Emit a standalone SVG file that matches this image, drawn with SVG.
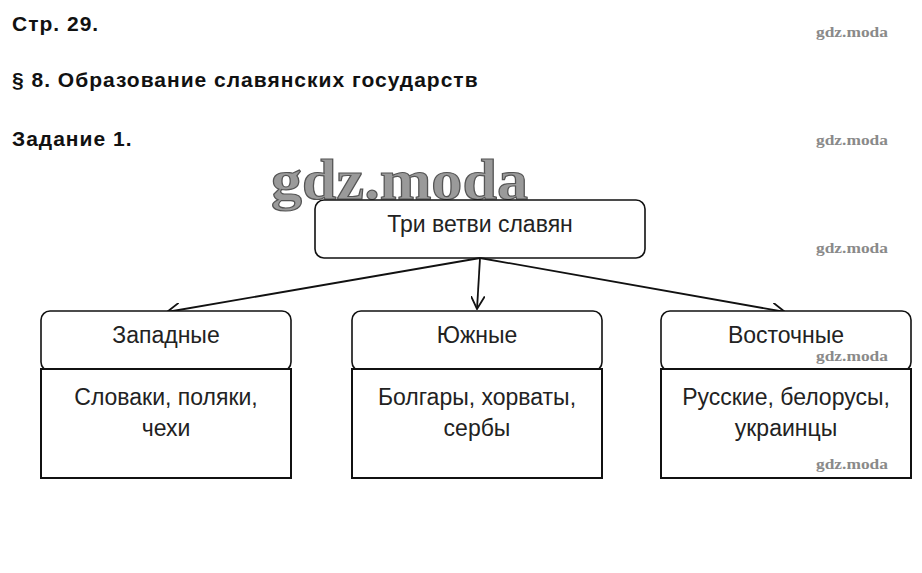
<svg xmlns="http://www.w3.org/2000/svg" width="922" height="573" viewBox="0 0 922 573">
<style>
.h{font-family:"Liberation Sans",Arial,sans-serif;font-weight:bold;font-size:21px;letter-spacing:1px;fill:#111}
.t{font-family:"Liberation Sans",Arial,sans-serif;font-size:23px;fill:#222;text-anchor:middle}
.box{fill:#fff;stroke:#111;stroke-width:1.6}
.body{fill:#fff;stroke:#111;stroke-width:2}
.wm{font-family:"Liberation Serif","Times New Roman",serif;font-weight:bold;font-size:15px;fill:#8a8a8a}
.big{font-family:"Liberation Serif","Times New Roman",serif;font-weight:bold;font-size:58px;fill:#9a9a9a;stroke:#555;stroke-width:1.2}
.c{stroke:#111;stroke-width:1.8;fill:none}
</style>
<defs>
<marker id="ah" viewBox="0 0 14 14" refX="13" refY="7" markerWidth="14" markerHeight="14" markerUnits="userSpaceOnUse" orient="auto">
<path d="M0,0 L13,7 L0,14" fill="none" stroke="#111" stroke-width="1.8"/>
</marker>
</defs>
<rect width="922" height="573" fill="#fff"/>
<text class="h" x="12" y="31">Стр. 29.</text>
<text class="h" x="12" y="87">§ 8. Образование славянских государств</text>
<text class="h" x="12" y="146">Задание 1.</text>
<text class="big" x="271" y="199" textLength="257" lengthAdjust="spacingAndGlyphs">gdz.moda</text>
<g id="root">
<rect class="box" x="315" y="200" width="330" height="58" rx="9"/>
<text class="t" x="480" y="232">Три ветви славян</text>
</g>
<g id="connectors">
<line class="c" x1="480" y1="258" x2="167" y2="312" marker-end="url(#ah)"/>
<line class="c" x1="480" y1="258" x2="477" y2="309" marker-end="url(#ah)"/>
<line class="c" x1="480" y1="258" x2="785" y2="312" marker-end="url(#ah)"/>
</g>
<g id="west">
<rect class="box" x="41" y="311" width="250" height="60" rx="9"/>
<rect class="body" x="41" y="369" width="250" height="109"/>
<text class="t" x="166" y="343">Западные</text>
<text class="t" x="166" y="405">Словаки, поляки,</text>
<text class="t" x="166" y="436">чехи</text>
</g>
<g id="south">
<rect class="box" x="352" y="311" width="250" height="60" rx="9"/>
<rect class="body" x="352" y="369" width="250" height="109"/>
<text class="t" x="477" y="343">Южные</text>
<text class="t" x="477" y="405">Болгары, хорваты,</text>
<text class="t" x="477" y="436">сербы</text>
</g>
<g id="east">
<rect class="box" x="661" y="311" width="250" height="60" rx="9"/>
<rect class="body" x="661" y="369" width="250" height="109"/>
<text class="t" x="786" y="343">Восточные</text>
<text class="t" x="786" y="405">Русские, белорусы,</text>
<text class="t" x="786" y="436">украинцы</text>
</g>
<text class="wm" x="816" y="37" textLength="72" lengthAdjust="spacingAndGlyphs">gdz.moda</text>
<text class="wm" x="816" y="145" textLength="72" lengthAdjust="spacingAndGlyphs">gdz.moda</text>
<text class="wm" x="816" y="253" textLength="72" lengthAdjust="spacingAndGlyphs">gdz.moda</text>
<text class="wm" x="816" y="361" textLength="72" lengthAdjust="spacingAndGlyphs">gdz.moda</text>
<text class="wm" x="816" y="469" textLength="72" lengthAdjust="spacingAndGlyphs">gdz.moda</text>
</svg>
